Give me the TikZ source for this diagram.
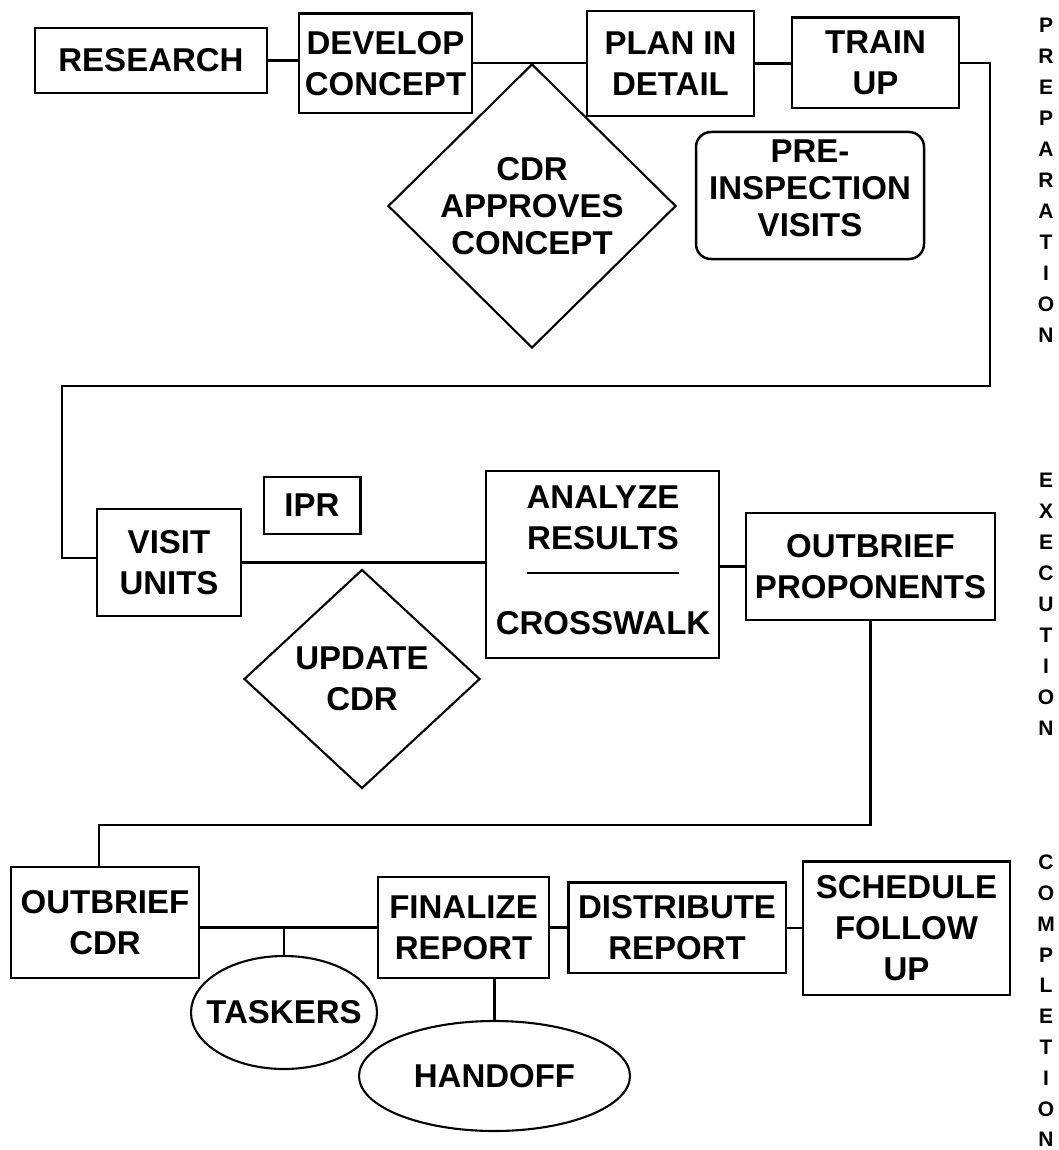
\documentclass[tikz,border=0pt]{standalone}
\usepackage{fontspec}
\setmainfont{Liberation Sans}
\usetikzlibrary{shapes.geometric,calc}
\begin{document}
\begin{tikzpicture}[x=1pt,y=-1pt,
  lbl/.style={font=\bfseries\fontsize{33}{41}\selectfont, align=center, inner sep=0pt},
  box/.style={lbl, draw, line width=2.5pt, rectangle},
  rbox/.style={box, rounded corners=15pt},
  dia/.style={lbl, draw, line width=2.1pt, diamond},
  ell/.style={lbl, draw, line width=2.1pt, ellipse},
  conn/.style={line width=2.2pt},
  side/.style={font=\bfseries\fontsize{21}{31}\selectfont, align=center, inner sep=0pt}]
\useasboundingbox (0,0) rectangle (1059,1150);

% ---------- PREPARATION ----------
\node[box, minimum width=232pt, minimum height=65pt] (research) at (151,60.5) {RESEARCH};
\node[box, minimum width=173pt, minimum height=99.5pt] (develop) at (385.5,63.25) {DEVELOP\\CONCEPT};
\node[box, minimum width=167pt, minimum height=105pt] (plan) at (670.5,63.5) {PLAN IN\\DETAIL};
\node[box, minimum width=167pt, minimum height=90.5pt] (train) at (875.5,62.75) {TRAIN\\UP};
\node[dia, minimum width=288pt, minimum height=284pt, font=\bfseries\fontsize{33}{37}\selectfont] (cdrapp) at (532,206) {CDR\\APPROVES\\CONCEPT};
\node[rbox, minimum width=228pt, minimum height=127pt, text depth=15pt, font=\bfseries\fontsize{33}{37}\selectfont] (preinsp) at (810,195.5) {PRE-\\INSPECTION\\VISITS};
\node[side] (prep) at (1046,180) {P\\R\\E\\P\\A\\R\\A\\T\\I\\O\\N};

% ---------- EXECUTION ----------
\node[box, minimum width=144pt, minimum height=107pt] (visit) at (169,562.5) {VISIT\\UNITS};
\node[box, minimum width=96.5pt, minimum height=57pt] (ipr) at (312,505.5) {IPR};
\node[box, minimum width=233pt, minimum height=187pt] (analyze) at (602.5,564.5) {};
\node[lbl] (anres) at (603,518) {ANALYZE\\RESULTS};
\node[lbl] (cross) at (603,623) {CROSSWALK};
\node[box, minimum width=249pt, minimum height=107pt] (outprop) at (870.5,566.5) {OUTBRIEF\\PROPONENTS};
\node[dia, minimum width=236pt, minimum height=219pt] (update) at (362,679) {UPDATE\\CDR};
\node[side] (exec) at (1046,604) {E\\X\\E\\C\\U\\T\\I\\O\\N};

% ---------- COMPLETION ----------
\node[box, minimum width=188pt, minimum height=111pt] (outcdr) at (105,922.5) {OUTBRIEF\\CDR};
\node[ell, minimum width=186pt, minimum height=113pt] (taskers) at (284,1012.5) {\makebox[0pt]{TASKERS}};
\node[box, minimum width=171pt, minimum height=101pt] (finalize) at (463.5,927.5) {FINALIZE\\REPORT};
\node[ell, minimum width=271pt, minimum height=110pt] (handoff) at (494.5,1076) {\makebox[0pt]{HANDOFF}};
\node[box, minimum width=217.5pt, minimum height=90.5pt] (distribute) at (677,927.75) {DISTRIBUTE\\REPORT};
\node[box, minimum width=207pt, minimum height=133.5pt] (schedule) at (906.5,928.3) {SCHEDULE\\FOLLOW\\UP};
\node[side, font=\bfseries\fontsize{21}{30.8}\selectfont] (compl) at (1046,1001) {C\\O\\M\\P\\L\\E\\T\\I\\O\\N};

% divider inside analyze box
\draw[conn] ($(analyze.west)+(42,8.5)$) -- ($(analyze.west)+(194,8.5)$);

% ---------- connectors ----------
\coordinate (c1) at (990,386);
\coordinate (c2) at (62,558);
\coordinate (c4) at (99,825);

\draw[conn] (research.east) -- (research.east -| develop.west);
\draw[conn] (develop.east) -- (develop.east -| plan.west);
\draw[conn] (plan.east) -- (plan.east -| train.west);
\draw[conn] (train.east) -| (c1) -| (c2) -- (c2 -| visit.west);
\draw[conn] (visit.east) -- (visit.east -| analyze.west);
\draw[conn] (analyze.east |- outprop.west) -- (outprop.west);
\draw[conn] (outprop.south) |- (c4) -- (c4 |- outcdr.north);
\draw[conn] (outcdr.east |- finalize.west) -- (finalize.west);
\draw[conn] (taskers.north) -- (taskers.north |- finalize.west);
\draw[conn] (handoff.north) -- (handoff.north |- finalize.south);
\draw[conn] (finalize.east) -- (finalize.east -| distribute.west);
\draw[conn] (distribute.east) -- (distribute.east -| schedule.west);
\end{tikzpicture}
\end{document}
